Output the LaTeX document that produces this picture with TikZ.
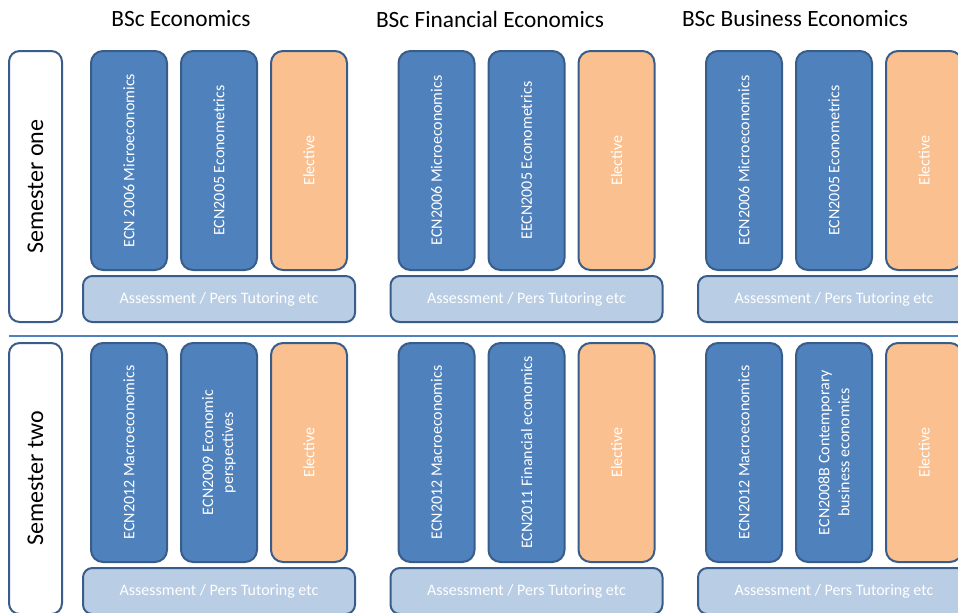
\documentclass[tikz,border=0pt]{standalone}
\usepackage{fontspec}
\setmainfont{Carlito}
\usepackage{tikz}
\usetikzlibrary{positioning}

\definecolor{modblue}{HTML}{4F81BD}
\definecolor{modedge}{HTML}{385D8A}
\definecolor{modorange}{HTML}{FAC090}
\definecolor{modlight}{HTML}{B9CDE5}

\begin{document}
\begin{tikzpicture}[x=0.75pt, y=-0.75pt,
    module/.style={draw=modedge, line width=1.5pt, rounded corners=9pt,
        rotate=90, minimum width=164.25pt, minimum height=57pt, inner sep=2pt,
        text=white, font=\fontsize{12}{15}\selectfont, align=center},
    core/.style={module, fill=modblue},
    elective/.style={module, fill=modorange},
    assess/.style={draw=modedge, line width=1.5pt, rounded corners=7pt,
        fill=modlight, minimum width=204pt, minimum height=34.5pt,
        text=white, font=\fontsize{12}{15}\selectfont},
    semester/.style={draw=modedge, line width=1.5pt, rounded corners=8pt,
        fill=white, rotate=90, minimum width=203.25pt, minimum height=39.75pt,
        font=\fontsize{18}{22}\selectfont},
    degree/.style={font=\fontsize{17.5}{21}\selectfont}]

          \clip (0, 0) rectangle (958, 612);

          % degree titles
          \node[degree] (econ) at (181, 19) {BSc Economics};
          \node[degree] (fin) at (490, 19) {BSc Financial Economics};
          \node[degree] (bus) at (795, 19) {BSc Business Economics};

          % semesters
          \node[semester] (sem1) at (35.5, 186.5) {Semester one};
          \node[semester] (sem2) at (35.5, 478.5) {Semester two};

          \coordinate (sepl) at (9, 336);
          \coordinate (sepr) at (960, 336);
          \draw[modblue, line width=0.8pt] (sepl) -- (sepr);

          % semester one
          \node[core] (e11) at (129, 160.5) {ECN 2006 Microeconomics};
          \node[core] (e12) at (219, 160.5) {ECN2005 Econometrics};
          \node[elective] (e13) at (309, 160.5) {Elective};
          \node[assess] (e1a) at (219, 299) {Assessment / Pers Tutoring etc};

          \node[core] (f11) at (436.5, 160.5) {ECN2006 Microeconomics};
          \node[core] (f12) at (526.5, 160.5) {EECN2005 Econometrics};
          \node[elective] (f13) at (616.5, 160.5) {Elective};
          \node[assess] (f1a) at (526.5, 299) {Assessment / Pers Tutoring etc};

          \node[core] (b11) at (744, 160.5) {ECN2006 Microeconomics};
          \node[core] (b12) at (834, 160.5) {ECN2005 Econometrics};
          \node[elective] (b13) at (924, 160.5) {Elective};
          \node[assess] (b1a) at (834, 299) {Assessment / Pers Tutoring etc};

          % semester two
          \node[core] (e21) at (129, 452.5) {ECN2012 Macroeconomics};
          \node[core] (e22) at (219, 452.5) {ECN2009 Economic\\perspectives};
          \node[elective] (e23) at (309, 452.5) {Elective};
          \node[assess] (e2a) at (219, 591) {Assessment / Pers Tutoring etc};

          \node[core] (f21) at (436.5, 452.5) {ECN2012 Macroeconomics};
          \node[core] (f22) at (526.5, 452.5) {ECN2011 Financial economics};
          \node[elective] (f23) at (616.5, 452.5) {Elective};
          \node[assess] (f2a) at (526.5, 591) {Assessment / Pers Tutoring etc};

          \node[core] (b21) at (744, 452.5) {ECN2012 Macroeconomics};
          \node[core] (b22) at (834, 452.5) {ECN2008B Contemporary\\business economics};
          \node[elective] (b23) at (924, 452.5) {Elective};
          \node[assess] (b2a) at (834, 591) {Assessment / Pers Tutoring etc};

        \end{tikzpicture}
\end{document}
